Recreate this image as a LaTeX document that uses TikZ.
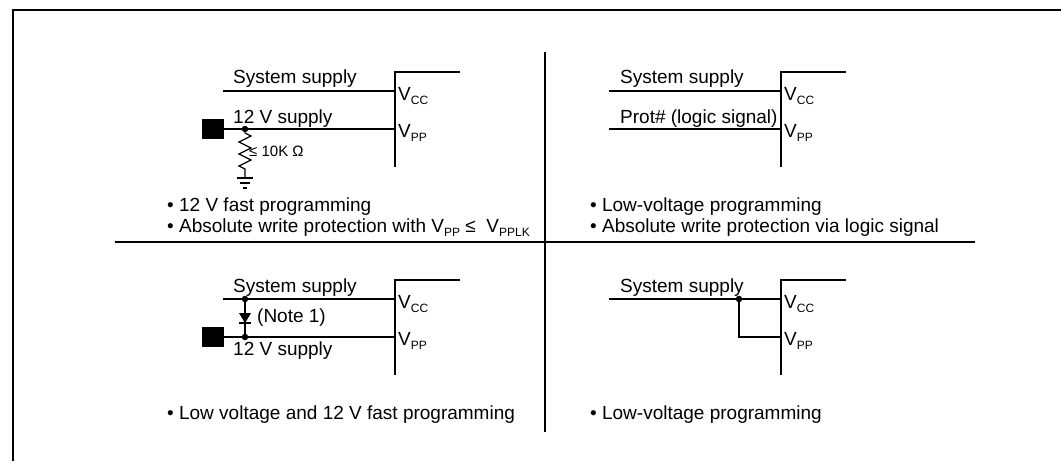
\documentclass[tikz,border=0pt]{standalone}
\usepackage{fontspec}
\setmainfont{Liberation Sans}
\usetikzlibrary{positioning}
\newcommand\pinsub[1]{\raisebox{-4pt}{\fontsize{12}{12}\selectfont #1}}
\tikzset{
    wire/.style={
           line width=1.3pt},
    % dividers and frame
    bar/.style={
           line width=2.6pt},
    lbl/.style={
           anchor=base west,
           inner sep=0pt,
           font=\fontsize{19}{22}\selectfont},
    small/.style={
           inner sep=0pt,
           font=\fontsize{15}{17}\selectfont},
    pad/.style={
           rectangle,
           fill=black,
           minimum width=22pt,
           minimum height=20pt,
           inner sep=0pt},
    dot/.style={
           circle,
           fill=black,
           minimum size=6.5pt,
           inner sep=0pt}
}
\begin{document}
\begin{tikzpicture}[x=1pt, y=-1pt]
	\useasboundingbox (0,0) rectangle (1061,461);
	\coordinate (fr-bl) at (13,461);
	\coordinate (fr-tr) at (1061,10);
	\coordinate (vd-top) at (545,52);
	\coordinate (vd-bot) at (545,432);
	\coordinate (hd-l) at (115,242);
	\coordinate (hd-r) at (975,242);
	\draw[bar] (fr-bl) |- (fr-tr);
	\draw[bar] (vd-top) -- (vd-bot);
	\draw[bar] (hd-l) -- (hd-r);

	% 12 V supply with pull-down
	\begin{scope}[shift={(395,72)}]
	\coordinate (a-top) at (0,0);
	\coordinate (a-end) at (65,0);
	\coordinate (a-bot) at (0,95);
	\coordinate (a-cc) at (0,19);
	\coordinate (a-pp) at (0,57);
	\coordinate (a-in) at (-172,19);
	\coordinate (a-res) at (-150,79);
	\coordinate (a-gnd) at (-150,106);
	\node[pad] (a-pad) at (-182,57) {};
	\node[dot] (a-j) at (-150,57) {};
	\draw[wire] (a-end) -- (a-top) -- (a-bot);
	\draw[wire] (a-in) -- (a-cc);
	\draw[wire] (a-pad) -- (a-pp);
	\draw[wire] (a-j) -- (-150,61) -- (-144,64) -- (-156,70) -- (-144,76) -- (-156,82) -- (-144,88) -- (-156,94) -- (-150,97) -- (a-gnd);
	\draw[wire] ([xshift=-8pt]a-gnd) -- ([xshift=8pt]a-gnd)
		([shift={(-5,5)}]a-gnd) -- ([shift={(5,5)}]a-gnd)
		([shift={(-2,10)}]a-gnd) -- ([shift={(2,10)}]a-gnd);
	\node[small, right=4pt of a-res] (a-ohm) {≤ 10K Ω};
	\node[lbl] (a-sys) at (-162,11) {System supply};
	\node[lbl] (a-12v) at (-162,51) {12 V supply};
	\node[lbl] (a-vcc) at (3,28) {V\pinsub{CC}};
	\node[lbl] (a-vpp) at (3,65) {V\pinsub{PP}};
	\node[lbl] (a-b1) at (-228,139) {\textbullet\ 12 V fast programming};
	\node[lbl] (a-b2) at (-228,160) {\textbullet\ Absolute write protection with V\pinsub{PP} ≤\ \ V\pinsub{PPLK}};
	\end{scope}

	% logic signal on Vpp
	\begin{scope}[shift={(781,72)}]
	\coordinate (b-top) at (0,0);
	\coordinate (b-end) at (65,0);
	\coordinate (b-bot) at (0,95);
	\coordinate (b-cc) at (0,19);
	\coordinate (b-pp) at (0,57);
	\coordinate (b-in1) at (-172,19);
	\coordinate (b-in2) at (-172,57);
	\draw[wire] (b-end) -- (b-top) -- (b-bot);
	\draw[wire] (b-in1) -- (b-cc);
	\draw[wire] (b-in2) -- (b-pp);
	\node[lbl] (b-sys) at (-161,11) {System supply};
	\node[lbl] (b-prot) at (-161,51) {Prot\# (logic signal)};
	\node[lbl] (b-vcc) at (3,28) {V\pinsub{CC}};
	\node[lbl] (b-vpp) at (3,65) {V\pinsub{PP}};
	\node[lbl] (b-b1) at (-191,139) {\textbullet\ Low-voltage programming};
	\node[lbl] (b-b2) at (-191,160) {\textbullet\ Absolute write protection via logic signal};
	\end{scope}

	% diode between supplies
	\begin{scope}[shift={(395,280)}]
	\coordinate (c-top) at (0,0);
	\coordinate (c-end) at (65,0);
	\coordinate (c-bot) at (0,95);
	\coordinate (c-cc) at (0,19);
	\coordinate (c-pp) at (0,57);
	\coordinate (c-in) at (-172,19);
	\coordinate (c-d) at (-150,38);
	\node[pad] (c-pad) at (-182,57) {};
	\node[dot] (c-j1) at (-150,19) {};
	\node[dot] (c-j2) at (-150,57) {};
	\draw[wire] (c-end) -- (c-top) -- (c-bot);
	\draw[wire] (c-in) -- (c-cc);
	\draw[wire] (c-pad) -- (c-pp);
	\draw[wire] (c-j1) -- (c-j2);
	\fill (-156,33) -- (-144,33) -- (-150,43) -- cycle;
	\draw[wire] (-156,43) -- (-144,43);
	\node[lbl, right=12pt of c-d] (c-note) {(Note 1)};
	\node[lbl] (c-sys) at (-162,12) {System supply};
	\node[lbl] (c-12v) at (-162,75) {12 V supply};
	\node[lbl] (c-vcc) at (3,28) {V\pinsub{CC}};
	\node[lbl] (c-vpp) at (3,65) {V\pinsub{PP}};
	\node[lbl] (c-b1) at (-228,139) {\textbullet\ Low voltage and 12 V fast programming};
	\end{scope}

	% Vpp tied to Vcc
	\begin{scope}[shift={(781,280)}]
	\coordinate (d-top) at (0,0);
	\coordinate (d-end) at (65,0);
	\coordinate (d-bot) at (0,95);
	\coordinate (d-cc) at (0,19);
	\coordinate (d-pp) at (0,57);
	\coordinate (d-in) at (-172,19);
	\node[dot] (d-j) at (-42,19) {};
	\draw[wire] (d-end) -- (d-top) -- (d-bot);
	\draw[wire] (d-in) -- (d-cc);
	\draw[wire] (d-j) |- (d-pp);
	\node[lbl] (d-sys) at (-161,12) {System supply};
	\node[lbl] (d-vcc) at (3,28) {V\pinsub{CC}};
	\node[lbl] (d-vpp) at (3,65) {V\pinsub{PP}};
	\node[lbl] (d-b1) at (-191,139) {\textbullet\ Low-voltage programming};
	\end{scope}
\end{tikzpicture}
\end{document}
